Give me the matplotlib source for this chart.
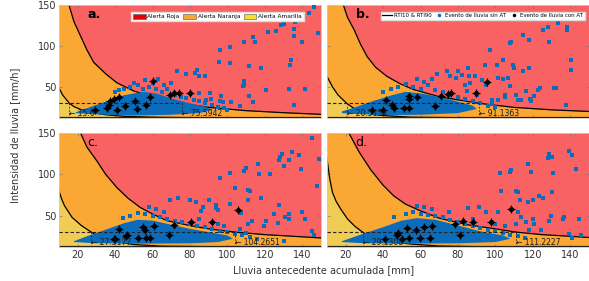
import numpy as np
import matplotlib
matplotlib.use("Agg")
import matplotlib.pyplot as plt
from matplotlib.patches import Patch
from matplotlib.lines import Line2D

# --- curvas RTI ---
a_sup_x = [15.4, 18, 21.6, 25, 28.6, 35, 41, 50, 60, 75.6, 90, 110, 130, 150]
a_sup_y = [150, 130, 112, 95, 80, 66, 55, 45, 38, 30, 25, 21, 18.5, 16.5]
a_inf_x = [10, 12, 15.6, 18, 22, 28, 35, 45, 60, 80, 150]
a_inf_y = [49, 40, 30, 26, 22, 18.5, 16, 14, 13, 12.4, 12.2]

b_sup_x = [18.8, 21, 24.5, 28, 31.5, 36, 42, 49, 56, 70, 91.1, 110, 130, 150]
b_sup_y = [150, 135, 120, 102, 87, 74, 63, 54, 47, 38, 30, 25, 22, 20]
b_inf_x = [10, 13, 16, 20.5, 25, 30, 40, 55, 80, 150]
b_inf_y = [63, 50, 40, 30, 23, 18.5, 15, 13, 12.4, 12.2]

c_sup_x = [21.6, 25, 30.4, 35, 41, 47, 53.4, 60, 67.6, 80, 90, 104.3, 120, 135, 150]
c_sup_y = [150, 133, 116, 100, 84, 71, 60, 52, 44, 38, 34, 30, 27, 25, 23]
c_inf_x = [10, 11.5, 13, 17, 22, 27.3, 32, 40, 50, 65, 90, 150]
c_inf_y = [80, 70, 62, 48, 38, 30, 24, 18.5, 15, 13, 12.4, 12.2]

d_sup_x = [21.8, 27, 33.3, 40, 45.7, 52, 59.8, 70, 85, 100, 111.2, 125, 140, 150]
d_sup_y = [150, 128, 106, 87, 74, 64, 56, 47, 39, 34, 30, 27, 25, 23.5]
d_inf_x = [10, 11.5, 13, 15, 17.4, 21, 25, 29.1, 34, 42, 55, 70, 90, 150]
d_inf_y = [120, 95, 78, 67, 58, 46, 37, 30, 24, 19, 15.5, 13.2, 12.4, 12.2]

cruces = {"a": (15.6, 75.5942), "b": (20.5154, 91.1363),
          "c": (27.3177, 104.2651), "d": (29.1308, 111.2227)}
etiquetas_cruce = {"a": ("15.6", "75.5942"), "b": ("20.5154", "91.1363"),
                   "c": ("27.3177", "104.2651"), "d": ("29.1308", "111.2227")}

# --- nube densa de eventos (contorno) ---
a_nube_x = [19, 25, 35, 45, 55, 62, 70, 80, 88, 92, 85, 70, 50, 35, 25, 19]
a_nube_y = [19, 24, 32, 40, 44, 42, 36, 30, 26, 22, 18, 16, 15, 16, 17, 18]
b_nube_x = [18, 25, 35, 45, 52, 60, 70, 80, 88, 90, 80, 60, 40, 25, 18]
b_nube_y = [20, 25, 33, 40, 44, 42, 38, 32, 27, 23, 18, 16, 15.5, 17, 18]
c_nube_x = [18, 25, 35, 45, 52, 60, 70, 80, 90, 100, 103, 95, 80, 50, 30, 18]
c_nube_y = [19, 25, 33, 41, 45, 44, 39, 34, 30, 26, 22, 18, 16.5, 16, 16.5, 18]
d_nube_x = [18, 28, 40, 50, 58, 68, 80, 92, 104, 108, 100, 80, 50, 30, 18]
d_nube_y = [19, 27, 36, 44, 47, 45, 38, 31, 26, 22, 18, 16.5, 16, 16.5, 18]

# --- eventos de lluvia sin AT (puntos dispersos) ---
a_sin_x = [146.3, 143.6, 136.2, 130.3, 128.5, 121.5, 126, 135.6, 148.5, 113.5, 109.1, 114.5, 140, 135.6,
           101.2, 95.9, 95.5, 101.2, 111.8, 118, 133.9, 133.3, 109.1, 120.6, 132.9, 141.5, 109, 135.6,
           95.9, 88.8, 82.6, 87.9, 108.2, 90.6, 96.8, 102.1, 111.8, 91.5, 85, 97.7, 106.5, 113.5,
           72.9, 78, 83.5, 85, 45, 48, 52, 55, 58, 62, 65, 68, 72, 75, 78, 82, 85, 88, 92, 95, 98,
           100, 60, 63, 66, 70, 56, 50, 40, 42]
a_sin_y = [147.2, 140.6, 129.7, 126.9, 126, 117.6, 118.8, 120.5, 115.6, 110.8, 105.4, 105, 105.4, 112,
           99.3, 94.5, 81, 79.1, 75, 73, 83.2, 77, 52.8, 46.7, 47, 47.6, 57, 28.5,
           32.5, 34, 67, 62.9, 51.6, 42.7, 38.6, 31.3, 39.4, 35.5, 42, 31, 26.4, 31.3,
           69, 66, 71, 63, 47, 50, 52, 48, 50, 47, 44, 48, 40, 38, 36, 34, 33, 30, 28, 26, 24,
           22, 55, 60, 52, 55, 58, 55, 44, 46]
b_sin_x = [133.2, 127.9, 138.5, 138, 125.3, 115, 118.2, 128.8, 108.5, 108, 97, 104, 101, 94.4, 118.2,
           140.3, 85.5, 74, 69, 79, 76, 86, 93, 104, 123.6, 123, 132.4, 98, 112, 119, 105,
           109.3, 110.2, 114.6, 140.3, 79.8, 82, 89, 101.4, 106.7, 86.5, 84, 95, 107.6, 116.4, 120.8,
           131.5, 137.6, 101.4, 105, 111, 113.8, 118.5, 48, 52, 56, 60, 64, 68, 72, 76, 80, 84, 88,
           92, 96, 100, 98, 62, 66, 58, 44, 40, 85, 90]
b_sin_y = [128.5, 123.6, 122.9, 119, 119.6, 113.5, 107.5, 105.4, 105.4, 104, 95.3, 83.2, 77, 77.1, 73,
           83.2, 73, 69, 66, 61, 63, 63, 58, 60, 48.8, 46, 48.8, 34, 34, 33, 40,
           77, 73, 69, 71, 69, 65, 62.9, 60.9, 61, 55, 52, 52, 50.7, 44.6, 39.4,
           48.8, 28.5, 34.6, 38, 40.5, 33.8, 35, 50, 53, 50, 48, 52, 46, 44, 40, 38, 35, 33,
           30, 27, 25, 29, 56, 60, 60, 47, 44, 45, 40]
c_sin_x = [145.4, 134.7, 138, 129, 128, 127.5, 133, 148.9, 116.2, 110, 117, 109, 101.2, 139.2, 130,
           95.9, 123, 111, 104, 110.9, 90, 69.3, 73.8, 80, 83, 94, 118, 127.7, 120.6, 133, 141.5,
           148, 130.3, 145, 95, 107, 86, 112.1, 87, 94, 101.2, 113.2, 120.6, 125, 133, 140, 131,
           146.3, 111, 119.6, 127, 98, 106.5, 48, 52, 56, 60, 64, 68, 72, 76, 80, 84, 88, 92, 96,
           100, 104, 108, 112, 116, 110, 62, 66, 58, 44, 85, 95]
c_sin_y = [143.7, 127, 123, 125, 121, 117, 117, 118.8, 112.5, 108, 101, 104, 102, 106, 110,
           95.8, 101, 81, 84, 68.8, 69, 68.8, 71, 69, 67, 63, 71, 62.5, 43.7, 46, 46,
           85.4, 18.8, 31, 57, 53, 56, 80, 61, 59, 64, 43.7, 43, 52, 52, 54, 48,
           27, 40, 37.5, 40.6, 37, 34, 50, 53, 52, 50, 48, 46, 44, 42, 40, 38, 36, 34, 32,
           30, 28, 26, 24, 22, 29, 58, 55, 60, 47, 46, 40]
d_sin_x = [139.4, 128.8, 130.5, 141, 128, 117.3, 108.5, 107.6, 102.3, 119, 131, 143, 112, 103, 113,
           117.5, 120, 130.5, 120, 128.8, 135.9, 144.7, 141, 112, 111.1, 125.2, 123.5, 129.7, 136.8,
           116.4, 120.8, 111, 113.7, 95.2, 101.4, 99.6, 105, 124.3, 118, 145.6, 139.5, 91, 85.6,
           52, 56, 60, 64, 68, 72, 76, 80, 84, 88, 92, 96, 100, 104, 108, 112, 116, 62, 66, 58,
           46, 88, 98, 75]
d_sin_y = [127.9, 125, 121, 123, 119.6, 112.5, 105.4, 103, 102, 103, 102, 106, 79.1, 80, 69,
           67, 69, 79, 45.9, 44, 46, 46, 23, 54, 80, 70.9, 74, 50, 48,
           42.5, 40, 40, 48, 54, 55, 40, 37, 33, 33, 27, 28, 60, 59,
           52, 54, 52, 51, 50, 48, 45, 42, 40, 37, 35, 33, 31, 29, 27, 25, 23, 60, 58, 62,
           48, 46, 42, 55]

# --- eventos de lluvia con AT ---
a_con_x = [60.5, 39.3, 41.9, 50.8, 58.7, 69.3, 71.6, 74.3, 80, 45.5, 51.7, 56.4, 36.6, 35.7, 41.1, 29.5, 37.5]
a_con_y = [57, 35.5, 37.4, 32.5, 37.9, 40.6, 42.7, 42.7, 42.7, 26.4, 23.3, 28.5, 28.5, 24.5, 21.6, 22.4, 32.5]
b_con_x = [95.5, 89.9, 74.8, 76.5, 70.8, 58.1, 53.6, 41.8, 44.8, 46, 51, 54, 67.8, 34.2, 40.1, 53.6]
b_con_y = [56, 42.7, 41.9, 42, 38.6, 37.9, 35.5, 34.6, 28.5, 24.5, 24.5, 24.5, 26.4, 22.4, 22, 38.6]
c_con_x = [105.8, 92, 80.3, 71.4, 61, 54.8, 56, 41.9, 46.4, 46, 52.2, 56.6, 58.4, 69, 40.2, 39.3]
c_con_y = [57, 42.3, 42.9, 38.7, 37.5, 36.7, 32.5, 34, 27, 25, 22.9, 22.9, 22.9, 27, 22, 22]
d_con_x = [108.5, 97.9, 88.1, 82.8, 78.4, 66, 61.9, 57.7, 52.8, 48, 47.3, 50.1, 41.3, 54, 59.5, 65.3, 81]
d_con_y = [57.8, 42.2, 42.2, 43.7, 40.4, 37.5, 36.7, 32.5, 34.6, 28.4, 26, 22, 22, 23, 23, 23, 27]

xticks = [20, 40, 60, 80, 100, 120, 140]
yticks = [50, 100, 150]

paneles = {
    "a": (a_sup_x, a_sup_y, a_inf_x, a_inf_y, a_nube_x, a_nube_y, a_sin_x, a_sin_y, a_con_x, a_con_y),
    "b": (b_sup_x, b_sup_y, b_inf_x, b_inf_y, b_nube_x, b_nube_y, b_sin_x, b_sin_y, b_con_x, b_con_y),
    "c": (c_sup_x, c_sup_y, c_inf_x, c_inf_y, c_nube_x, c_nube_y, c_sin_x, c_sin_y, c_con_x, c_con_y),
    "d": (d_sup_x, d_sup_y, d_inf_x, d_inf_y, d_nube_x, d_nube_y, d_sin_x, d_sin_y, d_con_x, d_con_y),
}

ROJO, NARANJA, AMARILLO = "#F96262", "#FAA733", "#F0CC55"
AZUL = "#0A6CBA"
XMIN, XMAX, YMIN, YMAX = 10, 150, 12, 150

fig = plt.figure(figsize=(5.89, 2.81), dpi=100)
posiciones = {"a": [0.100, 0.580, 0.445, 0.402], "b": [0.555, 0.580, 0.445, 0.402],
              "c": [0.100, 0.121, 0.445, 0.405], "d": [0.555, 0.121, 0.445, 0.405]}

for letra, datos in paneles.items():
    sx, sy, ix, iy, nx, ny, px, py, cx, cy = datos
    ax = fig.add_axes(posiciones[letra])
    ax.set_facecolor(NARANJA)
    ax.fill_between(sx, sy, YMAX + 5, color=ROJO, lw=0, zorder=1)
    ax.fill_between(ix, YMIN - 5, iy, color=AMARILLO, lw=0, zorder=1.5)
    ax.plot(sx, sy, color="black", lw=0.9, zorder=2.5)
    ax.plot(ix, iy, color="black", lw=0.9, zorder=2.5)
    ax.axhline(YMIN + 0.4, color="#222222", lw=1.6, zorder=2.5)

    # nube y eventos
    ax.fill(nx, ny, color=AZUL, lw=0, zorder=3)
    ax.plot(px, py, "s", color=AZUL, ms=2.2, mew=0, zorder=3)
    ax.plot(cx, cy, "D", color="black", ms=3.5, mew=0, zorder=5)
    ax.plot(cx, cy, "+", color="black", ms=5.5, mew=0.8, zorder=5)

    # umbrales
    x1, x2 = cruces[letra]
    t1, t2 = etiquetas_cruce[letra]
    ax.plot([XMIN, x2], [30, 30], "--", color="#222222", lw=0.8, dashes=(3, 2), zorder=4)
    for xc, tx in [(x1, t1), (x2, t2)]:
        ax.plot([xc, xc], [YMIN, 30], "--", color="#222222", lw=0.6, dashes=(2, 2), zorder=4)
        ax.text(xc, YMIN + 0.6, "\u2190 " + tx, fontsize=5.5, color="#1a1a1a",
                ha="left", va="bottom", zorder=6)

    ax.set_xlim(XMIN, XMAX)
    ax.set_ylim(YMIN, YMAX)
    ax.set_xticks(xticks)
    ax.set_yticks(yticks)
    ax.tick_params(direction="in", length=2.5, width=0.5, color="#777777",
                   labelsize=7, labelcolor="#333333", top=True, right=True, pad=2)
    if letra in ("a", "b"):
        ax.set_xticklabels([])
    if letra in ("b", "d"):
        ax.set_yticklabels([])
    for s in ax.spines.values():
        s.set_color("#cccccc")
        s.set_linewidth(0.6)
    ax.text(0.11, 0.92, letra + ".", transform=ax.transAxes, fontsize=9,
            fontweight="bold" if letra in ("a", "b") else "normal",
            ha="left", va="center", zorder=7)

    if letra == "a":
        h = [Patch(facecolor="#E80000", edgecolor="#555555", lw=0.4),
             Patch(facecolor="#FBA733", edgecolor="#555555", lw=0.4),
             Patch(facecolor="#F6DF2E", edgecolor="#555555", lw=0.4)]
        lg = ax.legend(h, ["Alerta Roja", "Alerta Naranja", "Alerta Amarilla"], ncol=3,
                       loc="upper right", bbox_to_anchor=(0.945, 0.965), fontsize=4.2,
                       handlelength=2.2, handleheight=0.9, columnspacing=0.6, handletextpad=0.3,
                       borderpad=0.3, fancybox=False, framealpha=1, edgecolor="#dddddd")
        lg.set_zorder(10)
    if letra == "b":
        h = [Line2D([], [], color="black", lw=0.9),
             Line2D([], [], marker=".", color=AZUL, ls="none", ms=3),
             Line2D([], [], marker=".", color="black", ls="none", ms=3)]
        lg = ax.legend(h, ["RTI10 & RTI90", "Evento de lluvia sin AT", "Evento de lluvia con AT"],
                       ncol=3, loc="upper right", bbox_to_anchor=(0.995, 0.965), fontsize=3.9,
                       handlelength=1.8, columnspacing=0.5, handletextpad=0.3,
                       borderpad=0.3, fancybox=False, framealpha=1, edgecolor="#dddddd")
        lg.set_zorder(10)

fig.text(0.025, 0.52, "Intensidad de lluvia [mm/h]", rotation=90, fontsize=7,
         color="#333333", ha="center", va="center")
fig.text(0.55, 0.04, "Lluvia antecedente acumulada [mm]", fontsize=7,
         color="#333333", ha="center", va="center")

fig.savefig("out.png", dpi=100)
